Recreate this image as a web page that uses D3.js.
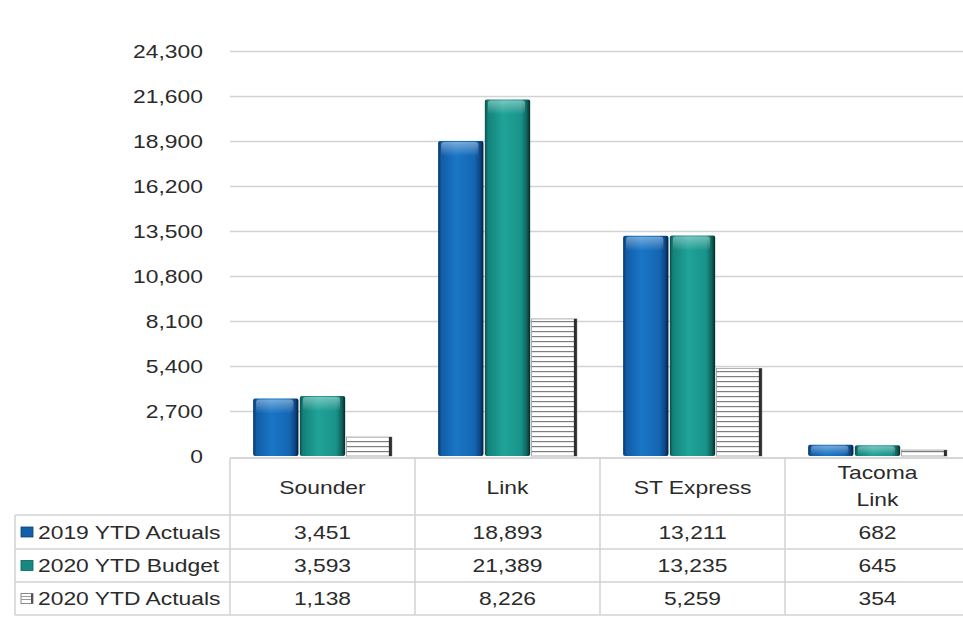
<!DOCTYPE html>
<html>
<head>
<meta charset="utf-8">
<script src="https://cdn.jsdelivr.net/npm/d3@7"></script>
<style>
  html, body { margin: 0; padding: 0; background: #fff; }
  svg { display: block; }
  text { font-family: "Liberation Sans", Arial, sans-serif; fill: #2b2b2b; }
</style>
</head>
<body>
<svg id="chart" width="963" height="624"></svg>
<script>
// ---- data ----
const categories = ["Sounder", "Link", "ST Express", "Tacoma Link"];
const categoryLines = [["Sounder"], ["Link"], ["ST Express"], ["Tacoma", "Link"]];
const seriesNames = ["2019 YTD Actuals", "2020 YTD Budget", "2020 YTD Actuals"];
const actuals2019 = [3451, 18893, 13211, 682];
const budget2020 = [3593, 21389, 13235, 645];
const actuals2020 = [1138, 8226, 5259, 354];
const yTicks = [0, 2700, 5400, 8100, 10800, 13500, 16200, 18900, 21600, 24300];

const seriesValues = [actuals2019, budget2020, actuals2020];

const svg = d3.select("#chart");
const fmt = d3.format(",");
const SX = 1.27;   // horizontal text stretch in reference
const FS = 18;

const plotLeft = 230, plotRight = 970;
const y0 = 456, yTop = 51;

const y = d3.scaleLinear().domain([0, 24300]).range([y0, yTop]);
const x = d3.scaleBand().domain(categories).range([plotLeft, plotRight])
  .paddingInner(0.25).paddingOuter(0.125);
const xs = d3.scaleBand().domain(seriesNames).range([0, x.bandwidth()]).paddingInner(0.03);

// ---- defs ----
const defs = svg.append("defs");
function hGrad(id, stops) {
  const g = defs.append("linearGradient").attr("id", id)
    .attr("x1", "0%").attr("x2", "100%").attr("y1", "0%").attr("y2", "0%");
  stops.forEach(s => g.append("stop").attr("offset", s[0]).attr("stop-color", s[1]));
}
hGrad("gBlue", [["0%", "#08336a"], ["7%", "#115ca6"], ["40%", "#1a76c6"], ["80%", "#1466b3"], ["93%", "#0c4584"], ["100%", "#041a36"]]);
hGrad("gTeal", [["0%", "#0a4f4b"], ["7%", "#13827a"], ["40%", "#20a398"], ["80%", "#19938a"], ["93%", "#0e615b"], ["100%", "#042826"]]);
const topHi = defs.append("linearGradient").attr("id", "gTop")
  .attr("x1", "0").attr("x2", "0").attr("y1", "0").attr("y2", "1");
topHi.append("stop").attr("offset", "0%").attr("stop-color", "#ffffff").attr("stop-opacity", 0.4);
topHi.append("stop").attr("offset", "100%").attr("stop-color", "#ffffff").attr("stop-opacity", 0);

const pat = defs.append("pattern").attr("id", "pStripe")
  .attr("patternUnits", "userSpaceOnUse").attr("width", 8).attr("height", 5)
  .attr("y", y0);
pat.append("rect").attr("width", 8).attr("height", 5).attr("fill", "#ffffff");
pat.append("rect").attr("y", 0).attr("width", 8).attr("height", 1.2).attr("fill", "#7e7e7e");

const fills = ["url(#gBlue)", "url(#gTeal)", "url(#pStripe)"];
const swatchColors = ["#1360aa", "#168a80", null];

// ---- gridlines & y axis ----
const yAxis = d3.axisLeft(y).tickValues(yTicks).tickSize(0).tickFormat(fmt);
svg.append("g").attr("class", "grid")
  .selectAll("line").data(yTicks.filter(t => t > 0)).join("line")
  .attr("x1", plotLeft).attr("x2", 963)
  .attr("y1", d => y(d) + 0.5).attr("y2", d => y(d) + 0.5)
  .attr("stroke", "#d3d3d3").attr("stroke-width", 1.5);

const yg = svg.append("g").attr("transform", `translate(${plotLeft},0)`).call(yAxis);
yg.select(".domain").remove();
yg.selectAll(".tick text").each(function(d) {
  const t = d3.select(this);
  t.attr("x", null).attr("dy", null)
   .attr("font-size", FS).attr("font-family", "Liberation Sans, Arial, sans-serif")
   .attr("fill", "#2b2b2b").attr("text-anchor", "end")
   .attr("transform", `translate(-27,6.5) scale(${SX},1)`);
});

// ---- bars ----
const groups = svg.append("g").selectAll("g.cat").data(categories).join("g")
  .attr("transform", d => `translate(${x(d)},0)`);

groups.each(function(cat, ci) {
  const g = d3.select(this);
  seriesNames.forEach((s, si) => {
    const v = seriesValues[si][ci];
    const bx = xs(s), bw = xs.bandwidth();
    const top = y(v), h = y0 - top;
    if (si < 2) {
      g.append("rect").attr("x", bx).attr("y", top).attr("width", bw).attr("height", h)
        .attr("rx", 2).attr("fill", fills[si]);
      g.append("rect").attr("x", bx + 3).attr("y", top + 1).attr("width", bw - 8)
        .attr("height", Math.min(14, Math.max(h - 2, 0))).attr("rx", 3).attr("fill", "url(#gTop)");
    } else {
      g.append("rect").attr("x", bx).attr("y", top).attr("width", bw).attr("height", h)
        .attr("fill", fills[si]).attr("stroke", "#9a9a9a").attr("stroke-width", 0.8);
      g.append("rect").attr("x", bx + bw - 3).attr("y", top).attr("width", 3).attr("height", h)
        .attr("fill", "#2e2e2e");
    }
  });
});

// ---- table ----
const tbl = svg.append("g");
const rowTops = [515, 549, 582];
const rowBottom = 615;
const headTop = 458;
const lineCol = "#d2d2d2";

tbl.append("line").attr("x1", plotLeft).attr("x2", 963).attr("y1", headTop).attr("y2", headTop)
  .attr("stroke", "#c8c8c8").attr("stroke-width", 1.5);
[...rowTops, rowBottom].forEach(yy => {
  tbl.append("line").attr("x1", 15).attr("x2", 963).attr("y1", yy).attr("y2", yy)
    .attr("stroke", lineCol).attr("stroke-width", 1.5);
});
tbl.append("line").attr("x1", 15).attr("x2", 15).attr("y1", rowTops[0]).attr("y2", rowBottom)
  .attr("stroke", lineCol).attr("stroke-width", 1.5);
categories.forEach(c => {
  const lx = x(c) - x.step() * x.paddingInner() / 2;
  tbl.append("line").attr("x1", lx).attr("x2", lx).attr("y1", headTop).attr("y2", rowBottom)
    .attr("stroke", lineCol).attr("stroke-width", 1.5);
});

function stText(parent, tx, ty, str, anchor) {
  return parent.append("text")
    .attr("transform", `translate(${tx},${ty}) scale(${SX},1)`)
    .attr("text-anchor", anchor).attr("font-size", FS).text(str);
}

categories.forEach((c, ci) => {
  const cx = x(c) + x.bandwidth() / 2;
  const lines = categoryLines[ci];
  if (lines.length === 1) {
    stText(tbl, cx, 494, lines[0], "middle");
  } else {
    stText(tbl, cx, 479, lines[0], "middle");
    stText(tbl, cx, 506, lines[1], "middle");
  }
});

seriesNames.forEach((s, si) => {
  const rc = (rowTops[si] + (si < 2 ? rowTops[si + 1] : rowBottom)) / 2;
  if (si < 2) {
    tbl.append("rect").attr("x", 21).attr("y", rc - 5).attr("width", 12).attr("height", 10)
      .attr("fill", swatchColors[si]).attr("stroke", si === 0 ? "#0b3f78" : "#0c5d57").attr("stroke-width", 0.8);
  } else {
    tbl.append("rect").attr("x", 21).attr("y", rc - 5).attr("width", 12).attr("height", 10)
      .attr("fill", "#ffffff").attr("stroke", "#8a8a8a").attr("stroke-width", 1);
    [rc - 2, rc + 1].forEach(ly => tbl.append("line").attr("x1", 21).attr("x2", 33)
      .attr("y1", ly).attr("y2", ly).attr("stroke", "#9a9a9a").attr("stroke-width", 1));
    tbl.append("rect").attr("x", 31).attr("y", rc - 5).attr("width", 2).attr("height", 10).attr("fill", "#555");
  }
  stText(tbl, 38, rc + 6.5, s, "start");
  categories.forEach((c, ci) => {
    const cx = x(c) + x.bandwidth() / 2;
    stText(tbl, cx, rc + 6.5, fmt(seriesValues[si][ci]), "middle");
  });
});
</script>
</body>
</html>
